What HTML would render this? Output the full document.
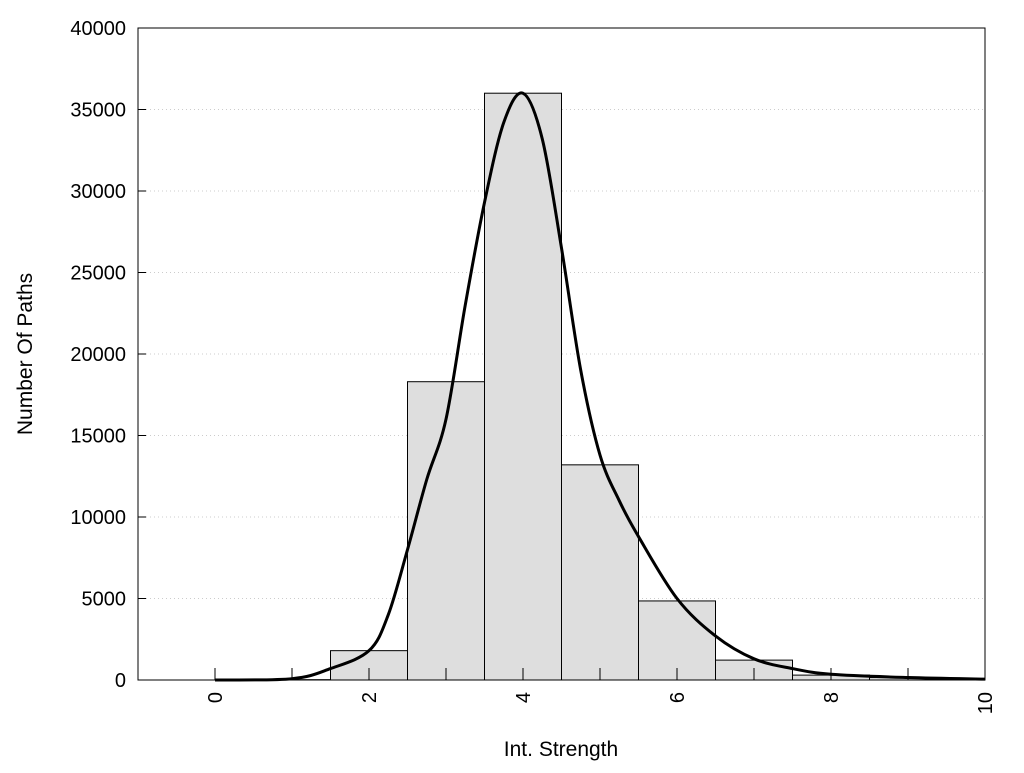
<!DOCTYPE html>
<html><head><meta charset="utf-8"><style>
body{margin:0;background:#fff}
svg text{font-family:"Liberation Sans",Arial,sans-serif;fill:#000}
</style></head><body>
<svg id="c" width="1024" height="768" xmlns="http://www.w3.org/2000/svg"></svg>
<script>
const binCenters=[0,1,2,3,4,5,6,7,8,9];
const binCounts=[0,20,1800,18300,36000,13200,4850,1220,300,150];
const curveX=[0,1,1.5,2,2.25,2.5,2.75,3,3.25,3.5,3.75,4,4.25,4.5,4.75,5,5.25,5.5,6,6.5,7,7.5,8,9,10];
const curveY=[0,80,700,1800,4000,8000,12300,16000,23000,29300,34200,36000,33200,26500,19000,13800,11000,8800,5000,2700,1300,700,350,150,50];
const yTicks=[0,5000,10000,15000,20000,25000,30000,35000,40000];
const xTicks=[0,2,4,6,8,10];
const L=138,R=985,T=28,B=680,x0=-1,x1=10,y0=0,y1=40000;
const X=v=>L+(v-x0)/(x1-x0)*(R-L);
const Y=v=>B-(v-y0)/(y1-y0)*(B-T);
const svg=document.getElementById('c');
const NS='http://www.w3.org/2000/svg';
function mk(t,a,p){const e=document.createElementNS(NS,t);for(const k in a)e.setAttribute(k,a[k]);(p||svg).appendChild(e);return e;}
// grid
yTicks.forEach(v=>{if(v>0&&v<y1){const g=mk('line',{x1:L,x2:R,y1:Y(v),y2:Y(v),stroke:'#ccc','stroke-dasharray':'1,3'});

}});
// bars
binCenters.forEach((c,i)=>{if(binCounts[i]<=0)return;const r=mk('rect',{x:X(c-0.5),y:Y(binCounts[i]),width:X(c+0.5)-X(c-0.5),height:B-Y(binCounts[i]),fill:'#dedede',stroke:'#000','stroke-width':1});

});
// frame
const f=mk('rect',{x:L,y:T,width:R-L,height:B-T,fill:'none',stroke:'#000','stroke-width':1});


// y ticks
yTicks.forEach(v=>{mk('line',{x1:L,x2:L+8,y1:Y(v),y2:Y(v),stroke:'#000'});
const t=mk('text',{x:L-12,y:Y(v)+7,'text-anchor':'end','font-size':20});t.textContent=v;

});
// x ticks (every integer)
for(let v=0;v<=10;v++){mk('line',{x1:X(v),x2:X(v),y1:B,y2:B-12,stroke:'#000'});}
xTicks.forEach(v=>{const t=mk('text',{x:0,y:0,'text-anchor':'end','font-size':20,transform:`translate(${X(v)+7},${B+12}) rotate(-90)`});t.textContent=v;

});
// curve (Catmull-Rom)
const pts=curveX.map((x,i)=>[X(x),Y(curveY[i])]);
let d='M'+pts[0][0]+','+pts[0][1];
for(let i=0;i<pts.length-1;i++){const p0=pts[i-1]||pts[i],p1=pts[i],p2=pts[i+1],p3=pts[i+2]||p2;
d+=` C${p1[0]+(p2[0]-p0[0])/6},${p1[1]+(p2[1]-p0[1])/6} ${p2[0]-(p3[0]-p1[0])/6},${p2[1]-(p3[1]-p1[1])/6} ${p2[0]},${p2[1]}`;}
const cp=mk('path',{d:d,fill:'none',stroke:'#000','stroke-width':3});


// titles
const xt=mk('text',{x:561,y:756,'text-anchor':'middle','font-size':21});xt.textContent='Int. Strength';


const yt=mk('text',{x:0,y:0,'text-anchor':'middle','font-size':21,transform:'translate(32,354) rotate(-90)'});yt.textContent='Number Of Paths';


</script>
</body></html>
